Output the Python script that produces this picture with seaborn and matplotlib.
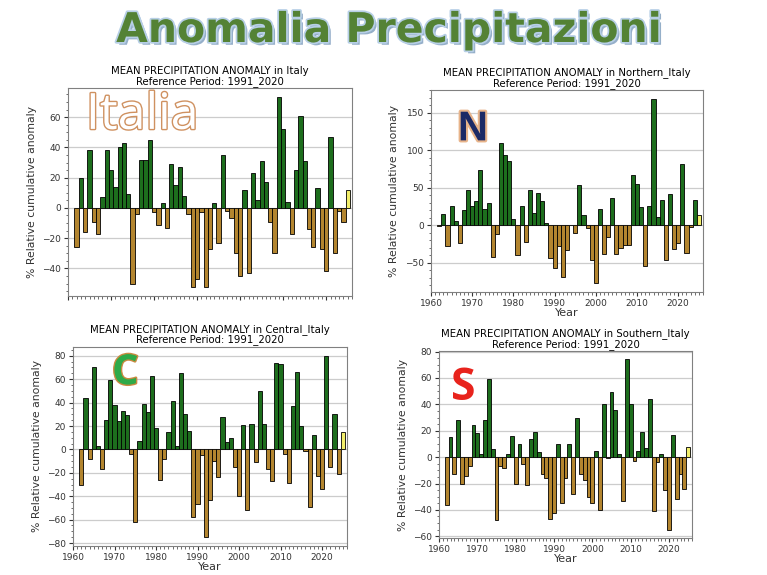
import pandas as pd
import matplotlib
matplotlib.use("Agg")
import matplotlib.pyplot as plt
import matplotlib.patheffects as pe
from matplotlib.ticker import MultipleLocator, AutoMinorLocator
import seaborn as sns

# Years shown in every panel
years = list(range(1962, 2026))

# % relative cumulative anomaly
italy = [-26, 20, -16, 38, -9, -17, 7, 38, 25, 14,
         40, 43, 9, -50, -4, 32, 32, 45, -3, -11,
         3, -13, 29, 15, 27, 8, -4, -52, -47, -3,
         -52, -27, 3, -23, 35, -2, -7, -30, -45, 12,
         -43, 23, 5, 31, 17, -9, -30, 73, 52, 4,
         -17, 25, 61, 31, -14, -26, 13, -27, -42, 47,
         -30, -2, -9, 12]

north = [-1, 15, -28, 25, 6, -24, 20, 47, 25, 32,
         74, 21, 30, -42, -12, 110, 93, 86, 8, -40,
         25, -23, 47, 16, 43, 32, 3, -44, -57, -28,
         -69, -33, 0, -11, 53, 14, -4, -47, -77, 21,
         -39, -16, 36, -38, -30, -27, -27, 67, 55, 24,
         -54, 26, 168, 11, 34, -47, 41, -32, -24, 81,
         -37, -2, 34, 13]

central = [-30, 44, -8, 70, 3, -17, 25, 59, 38, 24,
           33, 29, -4, -62, 7, 39, 32, 63, 18, -26,
           -8, 15, 41, 3, 65, 30, 16, -58, -47, -5,
           -75, -43, -10, -24, 28, 6, 10, -15, -40, 21,
           -52, 22, -11, 50, 22, -17, -27, 74, 73, -4,
           -29, 37, 66, 20, -1, -49, 12, -23, -34, 80,
           -15, 30, -21, 15]

south = [-36, 15, -13, 28, -20, -14, -7, 24, 18, 2,
         28, 59, 6, -48, -7, -8, 2, 16, -20, 10,
         -5, -21, 14, 19, 4, -13, -16, -47, -42, 10,
         -35, -16, 10, -28, 30, -13, -17, -30, -35, 5,
         -40, 40, -1, 49, 36, 2, -33, 74, 40, -3,
         5, 19, 7, 44, -41, -4, 2, -25, -55, 17,
         -32, -13, -24, 8]

palette = {"pos": "#1d6e1d", "neg": "#b3852f", "last": "#f2ee6a"}

fig = plt.figure(figsize=(7.67, 5.75), dpi=100)


def draw_panel(rect, values, region, show_x=True):
    ax = fig.add_axes(rect)
    df = pd.DataFrame({"year": years, "value": values})
    df["kind"] = ["pos" if v >= 0 else "neg" for v in values]
    df.loc[df.index[-1], "kind"] = "last"

    sns.barplot(data=df, x="year", y="value", hue="kind", palette=palette,
                native_scale=True, width=1, dodge=False, saturation=1,
                edgecolor="black", linewidth=0.6, errorbar=None,
                legend=False, ax=ax)

    ax.set_xlim(1960, 2026)
    ax.xaxis.set_major_locator(MultipleLocator(10))
    ax.xaxis.set_minor_locator(MultipleLocator(1))
    ax.yaxis.set_minor_locator(AutoMinorLocator())
    ax.yaxis.grid(True, color="#cccccc", linewidth=0.9)
    ax.set_axisbelow(True)
    ax.tick_params(which="major", labelsize=6.5, length=3, pad=2, colors="#333333")
    ax.tick_params(which="minor", length=1.8, colors="#555555")
    for s in ax.spines.values():
        s.set_color("#808080")

    ax.set_title(f"MEAN PRECIPITATION ANOMALY in {region}\nReference Period: 1991_2020",
                 fontsize=7.3, pad=3, linespacing=0.95)
    ax.set_ylabel("% Relative cumulative anomaly", fontsize=7.8, color="#333333")
    if show_x:
        ax.set_xlabel("Year", fontsize=8, labelpad=0, color="#333333")
    else:
        ax.set_xlabel("")
        ax.tick_params(axis="x", labelbottom=False)
    return ax


draw_panel([0.0887, 0.4852, 0.3703, 0.3617], italy, "Italy", show_x=False)
draw_panel([0.5619, 0.4922, 0.3546, 0.3513], north, "Northern_Italy")
draw_panel([0.0952, 0.0500, 0.3572, 0.3470], central, "Central_Italy")
draw_panel([0.5724, 0.0640, 0.3299, 0.3256], south, "Southern_Italy")

# Big heading
fig.text(0.508, 1 - 42 / 575, "Anomalia Precipitazioni", ha="center", va="baseline",
         fontsize=29.5, fontweight="bold", family="DejaVu Sans", color="#548235",
         path_effects=[pe.SimplePatchShadow(offset=(2, -2), shadow_rgbFace="#8aa6c4", alpha=0.9),
                       pe.Stroke(linewidth=2.5, foreground="#b7cfe6"), pe.Normal()])

# Region letters drawn over the panels
fig.text(0.112, 0.798, "Italia", ha="left", va="center", fontsize=36,
         family="Open Sans", color="white",
         path_effects=[pe.Stroke(linewidth=2, foreground="#cf9160"), pe.Normal()])
fig.text(0.597, 0.775, "N", ha="left", va="center", fontsize=30, fontweight="bold",
         family="Liberation Sans", color="#1c2a66",
         path_effects=[pe.Stroke(linewidth=3, foreground="#e8b48a"), pe.Normal()])
fig.text(0.146, 0.35, "C", ha="left", va="center", fontsize=30, fontweight="bold",
         family="Open Sans", color="#2eaa48",
         path_effects=[pe.Stroke(linewidth=2, foreground="#c98a40"), pe.Normal()])
fig.text(0.588, 0.325, "S", ha="left", va="center", fontsize=32, fontweight="bold",
         family="Open Sans", color="#e8231c")

fig.savefig("out.png", dpi=100)
